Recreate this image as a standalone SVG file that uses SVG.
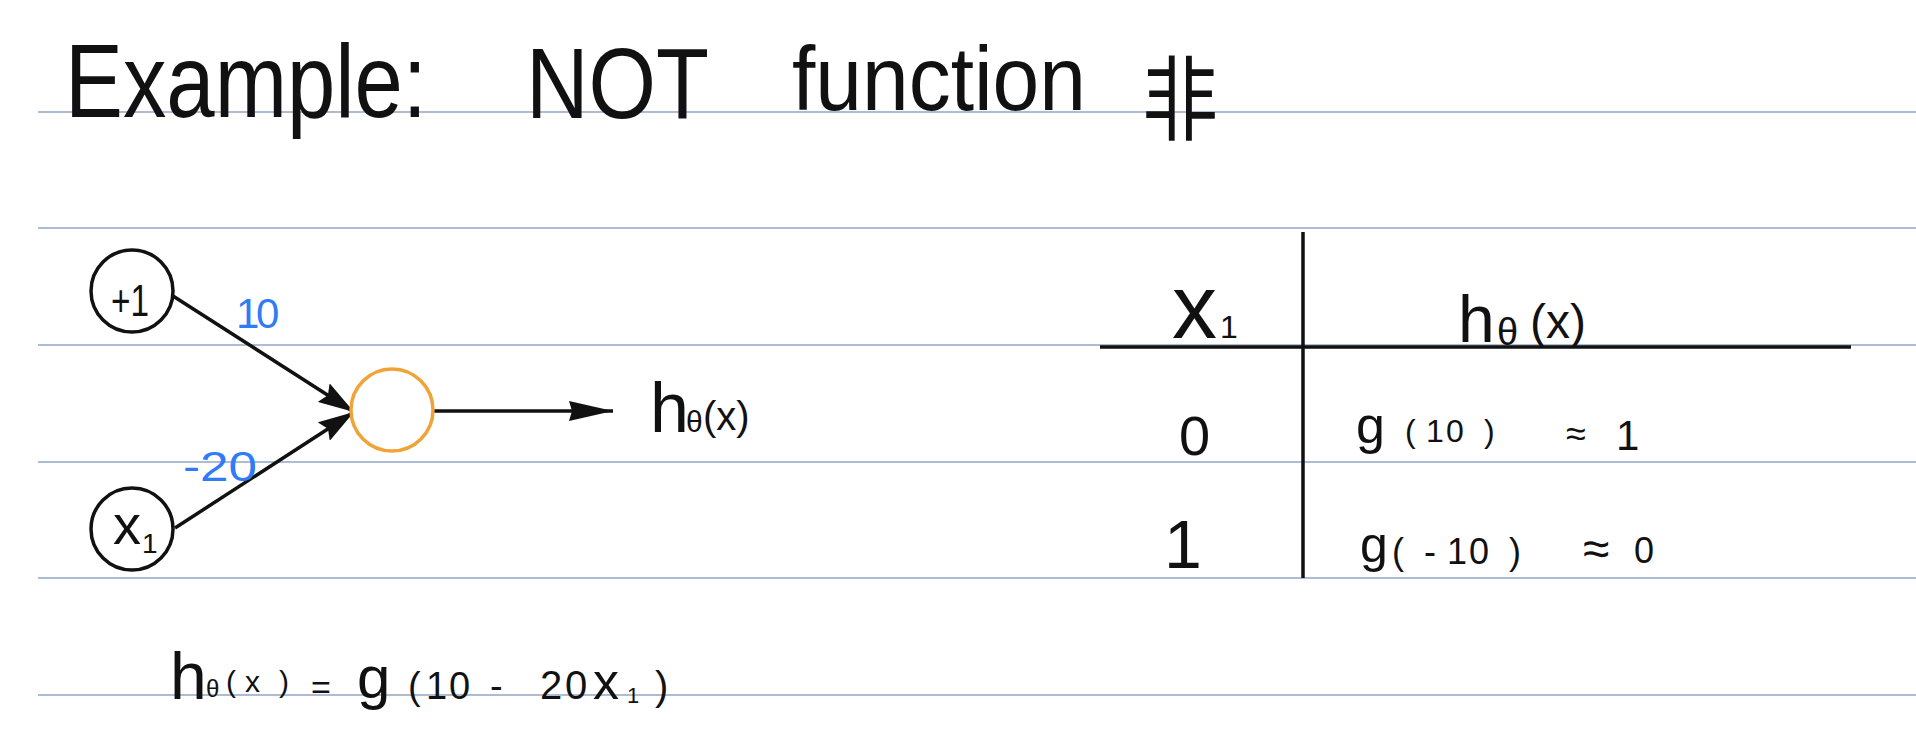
<svg xmlns="http://www.w3.org/2000/svg" width="1916" height="755" viewBox="0 0 1916 755">
<defs>
<style>
.rule{stroke:#adbbd4;stroke-width:2;fill:none}
.ink{font-family:"Liberation Sans","Noto Sans CJK SC",sans-serif;fill:#111}
.cjk{font-family:"Noto Sans CJK SC","Noto Sans CJK JP",sans-serif;fill:#111}
.blue{font-family:"Liberation Sans",sans-serif;fill:#2f7cf6}
.node{fill:#fff;stroke:#111;stroke-width:3.5}
.edge{stroke:#111;stroke-width:3.5;fill:none}
.tbl{stroke:#111;stroke-width:3.5;fill:none}
</style>
<marker id="ah" markerUnits="userSpaceOnUse" markerWidth="36" markerHeight="22" viewBox="0 0 36 22" refX="36" refY="11" orient="auto">
<path d="M0,0 L36,11 L0,22 L5,11 z" fill="#111"/>
</marker>
<marker id="ahLong" markerUnits="userSpaceOnUse" markerWidth="44" markerHeight="20" viewBox="0 0 44 20" refX="44" refY="10" orient="auto">
<path d="M0,0 L44,10 L0,20 L3,10 z" fill="#111"/>
</marker>
</defs>
<rect width="1916" height="755" fill="#fff"/>
<g id="rules">
<line class="rule" x1="38" y1="112" x2="1916" y2="112"/>
<line class="rule" x1="38" y1="228" x2="1916" y2="228"/>
<line class="rule" x1="38" y1="345" x2="1916" y2="345"/>
<line class="rule" x1="38" y1="462" x2="1916" y2="462"/>
<line class="rule" x1="38" y1="578" x2="1916" y2="578"/>
<line class="rule" x1="38" y1="695" x2="1916" y2="695"/>
</g>
<g id="title">
<text class="ink" x="65" y="117" font-size="104" textLength="362" lengthAdjust="spacingAndGlyphs">Example:</text>
<text class="ink" x="526" y="118" font-size="100" textLength="183" lengthAdjust="spacingAndGlyphs">NOT</text>
<text class="ink" x="792" y="110" font-size="90" textLength="294" lengthAdjust="spacingAndGlyphs">function</text>
<text class="cjk" x="1142" y="133" font-size="92" textLength="76" lengthAdjust="spacingAndGlyphs">非</text>
</g>
<g id="connectors">
<line class="edge" x1="173" y1="296" x2="354" y2="412" marker-end="url(#ah)"/>
<line class="edge" x1="175" y1="528" x2="354" y2="412" marker-end="url(#ah)"/>
<line class="edge" x1="433" y1="411" x2="613" y2="411" marker-end="url(#ahLong)"/>
<text class="blue" y="328" font-size="42"><tspan x="236">1</tspan><tspan x="256">0</tspan></text>
<text class="blue" x="183" y="481" font-size="42" textLength="74" lengthAdjust="spacingAndGlyphs">-20</text>
</g>
<g id="node-bias">
<circle class="node" cx="132" cy="291" r="41"/>
<text class="ink" x="130" y="316" font-size="44" text-anchor="middle" textLength="38" lengthAdjust="spacingAndGlyphs">+1</text>
</g>
<g id="node-x1">
<circle class="node" cx="132" cy="529" r="41"/>
<text class="ink" x="113" y="544" font-size="56">x<tspan x="142" y="553" font-size="28">1</tspan></text>
</g>
<g id="node-out">
<circle cx="392" cy="410" r="41" fill="#fff" stroke="#f0a336" stroke-width="3.5"/>
</g>
<g id="label-out">
<text class="ink" x="650" y="432" font-size="70">h<tspan x="686" font-size="30">θ</tspan><tspan x="703" y="430" font-size="40">(x)</tspan></text>
</g>
<g id="table">
<line class="tbl" x1="1303" y1="232" x2="1303" y2="578"/>
<line class="tbl" x1="1100" y1="347" x2="1851" y2="347"/>
<text class="ink" x="1172" y="338" font-size="90">x<tspan x="1220" font-size="32">1</tspan></text>
<text class="ink" x="1458" y="342" font-size="66">h<tspan x="1497" y="345" font-size="38">θ</tspan><tspan x="1530" y="338" font-size="48">(x)</tspan></text>
<text class="ink" x="1179" y="455" font-size="56">0</text>
<text class="ink" x="1183" y="568" font-size="68" text-anchor="middle">1</text>
<text class="ink" y="443"><tspan x="1356" font-size="52">g</tspan><tspan x="1405 1426 1446 1484" y="442" font-size="32">(10)</tspan> <tspan x="1566" y="446" font-size="36">≈</tspan> <tspan x="1616" y="450" font-size="42">1</tspan></text>
<text class="ink" y="562"><tspan x="1360" font-size="50">g</tspan><tspan x="1392 1424 1447 1469 1509" y="564" font-size="36">(-10)</tspan> <tspan x="1583" y="565" font-size="48">≈</tspan><tspan x="1634" y="563" font-size="36">0</tspan></text>
</g>
<g id="formula">
<text class="ink" y="699"><tspan x="170" font-size="66">h</tspan><tspan x="206" y="697" font-size="24">θ</tspan><tspan x="226 245 279" y="692" font-size="30">(x)</tspan> <tspan x="311" y="699" font-size="34">=</tspan> <tspan x="357" y="698" font-size="60">g</tspan><tspan x="408 426 449" y="699" font-size="38">(10</tspan> <tspan x="490" font-size="38">-</tspan> <tspan x="540 565" y="699" font-size="40">20</tspan><tspan x="593" y="699" font-size="52">x</tspan><tspan x="627" y="703" font-size="22">1</tspan><tspan x="655" y="700" font-size="40">)</tspan></text>
</g>
</svg>
